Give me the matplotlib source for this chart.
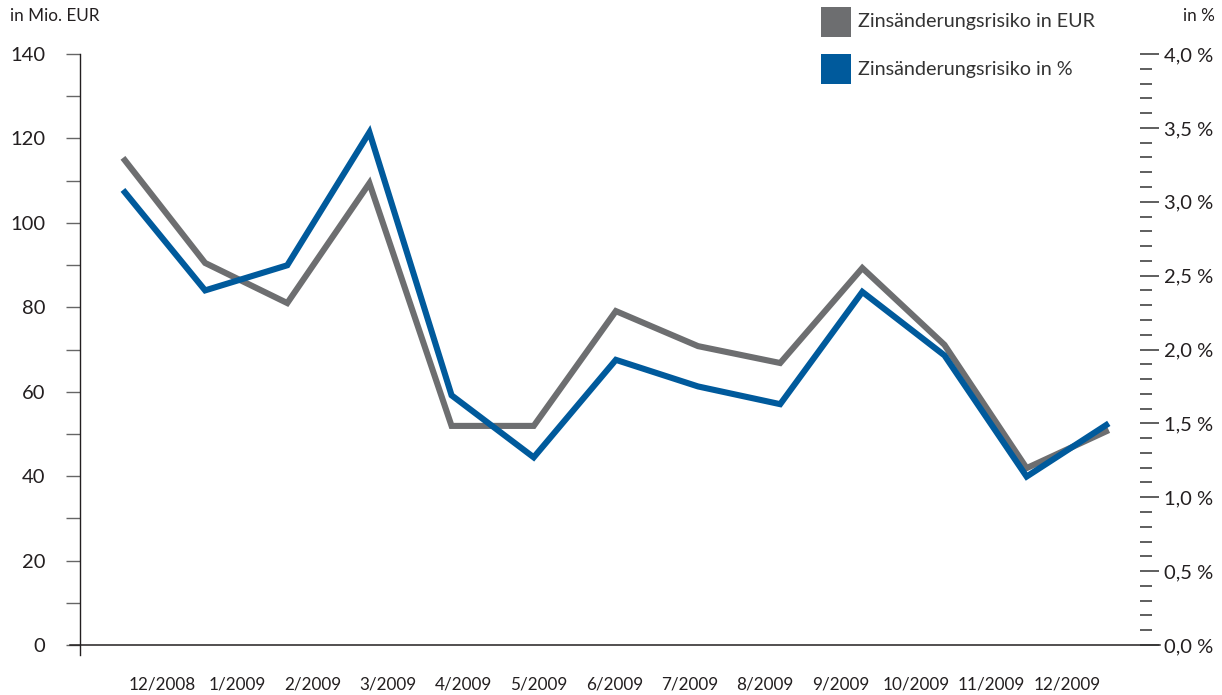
import numpy as np
import matplotlib.pyplot as plt
from matplotlib.patches import Rectangle
from matplotlib.ticker import MultipleLocator, FuncFormatter

plt.rcParams['font.family'] = ['Lato', 'DejaVu Sans']

# ------------------------------------------------------------
# data
# ------------------------------------------------------------
months = ["12/2008", "1/2009", "2/2009", "3/2009", "4/2009", "5/2009", "6/2009",
          "7/2009", "8/2009", "9/2009", "10/2009", "11/2009", "12/2009"]
risk_eur = [115.4, 90.5, 81.0, 109.4, 51.9, 51.9, 79.1, 70.8, 66.8, 89.3, 71.1, 41.9, 50.9]
risk_pct = [3.08, 2.40, 2.57, 3.47, 1.69, 1.27, 1.93, 1.75, 1.63, 2.39, 1.96, 1.14, 1.50]
legend_labels = ["Zinsänderungsrisiko in EUR", "Zinsänderungsrisiko in %"]

GRAY = "#6d6e70"
BLUE = "#005a9c"
TEXT = "#231f20"

W, H = 1222, 695
fig = plt.figure(figsize=(W / 100, H / 100), dpi=100)
ax = fig.add_axes([80 / W, 50 / H, 1060 / W, 591 / H])
ax2 = ax.twinx()

x = np.arange(len(months))
line_kw = dict(lw=4.4, solid_joinstyle="miter", solid_capstyle="butt")
ax.plot(x, risk_eur, color=GRAY, **line_kw)
ax2.plot(x, risk_pct, color=BLUE, **line_kw)

ax.set_xlim(-0.523, 12.38)
ax.set_ylim(0, 140)
ax2.set_ylim(0, 4.0)

# month labels sit a bit off the data points in the original
ax.set_xticks(0.474 + 0.918 * x, months)
ax.tick_params(axis="x", length=0, pad=23, labelsize=12.3, labelcolor=TEXT)

# left axis
ax.yaxis.set_major_locator(MultipleLocator(20))
ax.yaxis.set_minor_locator(MultipleLocator(10))
ax.tick_params(axis="y", which="both", length=10, width=1.0, color="#666666",
               direction="out", pad=15, labelsize=14.5, labelcolor=TEXT)

# right axis
ax2.yaxis.set_major_locator(MultipleLocator(0.5))
ax2.yaxis.set_minor_locator(MultipleLocator(0.1))
ax2.yaxis.set_major_formatter(FuncFormatter(lambda v, p: f"{v:.1f} %".replace(".", ",")))
ax2.tick_params(axis="y", which="major", length=13.7, width=1.1, color="#333333",
                direction="out", pad=3.6, labelsize=14.5, labelcolor=TEXT)
ax2.tick_params(axis="y", which="minor", length=8.6, width=1.1, color="#333333",
                direction="out")
ax2.yaxis.get_major_ticks()[-1].tick2line.set_markersize(8.6)

for a in (ax, ax2):
    for s in a.spines.values():
        s.set_visible(False)

# axis lines drawn by hand so they can run past the plot area
ax.plot([-10 / 1060, 1080 / 1060], [0, 0], transform=ax.transAxes,
        color=TEXT, lw=1.1, clip_on=False)
ax.plot([0, 0], [-10 / 591, 1], transform=ax.transAxes,
        color=TEXT, lw=1.0, clip_on=False)

# unit labels
fig.text(10 / W, 1 - 16 / H, "in Mio. EUR", ha="left", va="center",
         fontsize=12.3, color=TEXT)
fig.text(1215 / W, 1 - 16 / H, "in %", ha="right", va="center",
         fontsize=12.3, color=TEXT)

# legend
for i, (lab, col) in enumerate(zip(legend_labels, [GRAY, BLUE])):
    top = 7 + 47 * i
    fig.add_artist(Rectangle((821 / W, 1 - (top + 30) / H), 30 / W, 30 / H,
                             transform=fig.transFigure, color=col, lw=0))
    fig.text(858 / W, 1 - (top + 15) / H, lab, ha="left", va="center",
             fontsize=14.2, color="#333333")

plt.savefig("out.png", dpi=100)
plt.close()
